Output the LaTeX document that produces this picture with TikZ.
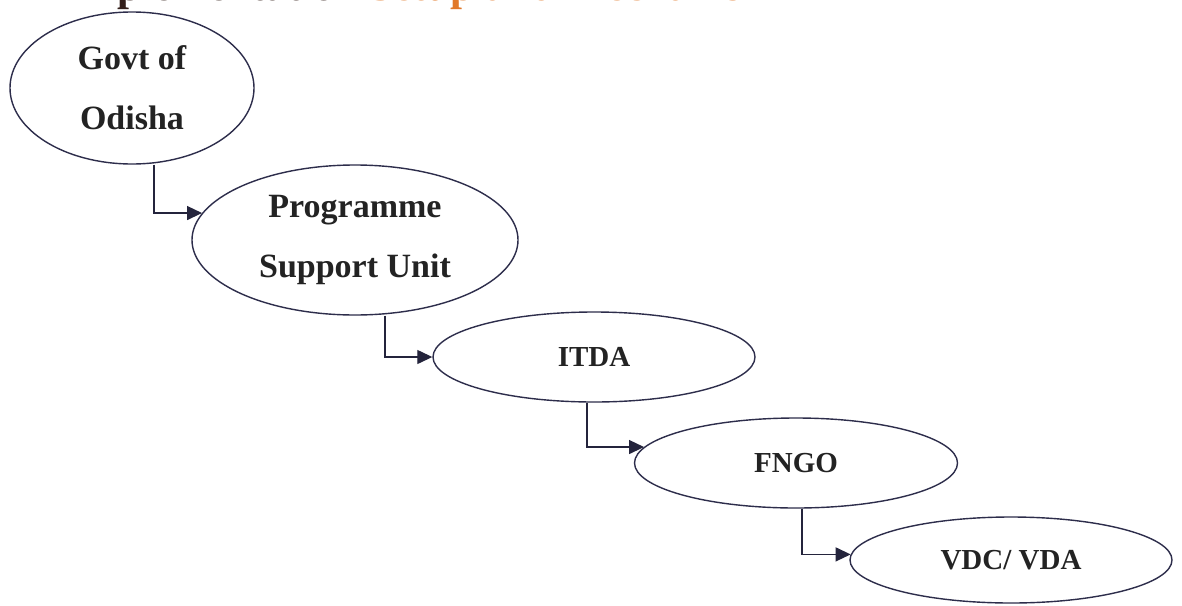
\documentclass[tikz,border=0pt]{standalone}
\usepackage{fontspec}
\setmainfont{Liberation Serif}
\usetikzlibrary{arrows.meta,shapes.geometric}
\definecolor{edgecol}{RGB}{45,45,75}
\definecolor{txtcol}{RGB}{35,35,35}
\definecolor{titledark}{RGB}{50,30,25}
\definecolor{titleorange}{RGB}{225,120,40}
\tikzset{
  oval/.style={ellipse, draw=edgecol, line width=1.4pt, inner sep=0pt, text=txtcol, align=center},
  bigtext/.style={font=\bfseries\fontsize{34}{60}\selectfont},
  smalltext/.style={font=\bfseries\fontsize{29}{34}\selectfont},
  link/.style={draw=edgecol!80!black, line width=1.3pt, -{Triangle[length=15pt,width=14pt]}}
}
\begin{document}
\begin{tikzpicture}[x=1pt,y=-1pt]
\useasboundingbox[fill=white] (0,0) rectangle (1182,605);
\begin{scope}
\clip (0,0) rectangle (1182,605);
\node[anchor=base west, inner sep=0pt, font=\bfseries\fontsize{43}{50}\selectfont] (title) at (65,0.5)
  {\textcolor{titledark}{Implementation} \textcolor{titleorange}{Setup and Mechanism}};
\end{scope}
\node[oval, bigtext, minimum width=244pt, minimum height=152pt] (govt) at (132,88) {Govt of\\Odisha};
\node[oval, bigtext, minimum width=326pt, minimum height=150pt] (psu) at (355,240) {Programme\\Support Unit};
\node[oval, smalltext, minimum width=322pt, minimum height=90pt] (itda) at (594,357) {ITDA};
\node[oval, smalltext, minimum width=323pt, minimum height=90pt] (fngo) at (796,463) {FNGO};
\node[oval, smalltext, minimum width=322pt, minimum height=86pt] (vdc) at (1011,560) {VDC/ VDA};
\draw[link] ([xshift=22pt]govt.south) |- (psu.170);
\draw[link] ([xshift=30pt]psu.south) |- (itda.west);
\draw[link] ([xshift=-7pt]itda.south) |- (fngo.174);
\draw[link] ([xshift=6pt]fngo.south) |- (vdc.178);
\end{tikzpicture}
\end{document}
